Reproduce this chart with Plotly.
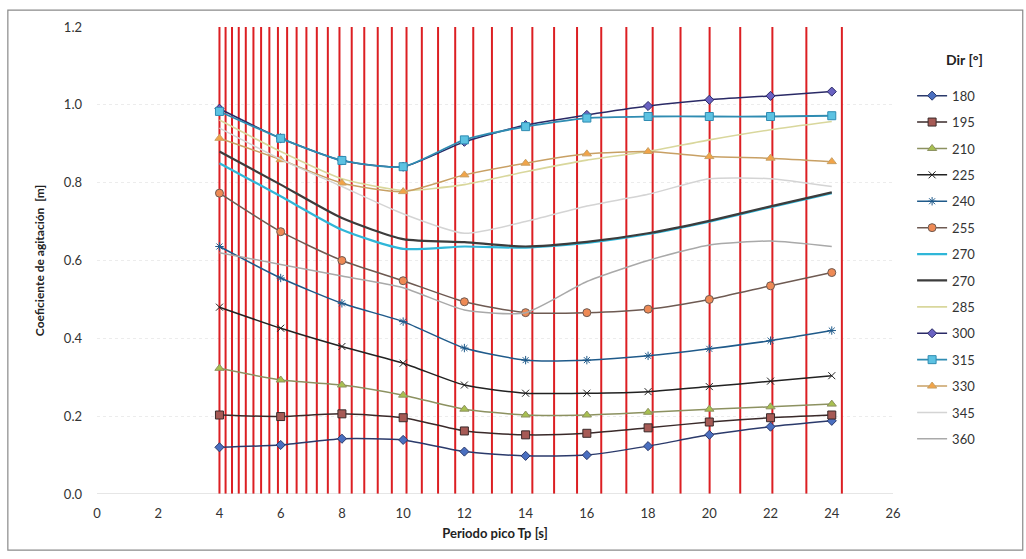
import plotly.graph_objects as go

# ---------------- data ----------------
periods = [4, 6, 8, 10, 12, 14, 16, 18, 20, 22, 24]

dir_labels = ["180", "195", "210", "225", "240", "255", "270", "270",
              "285", "300", "315", "330", "345", "360"]

s180 = [0.120, 0.126, 0.142, 0.139, 0.109, 0.098, 0.100, 0.123, 0.152, 0.173, 0.188]
s195 = [0.203, 0.199, 0.206, 0.196, 0.162, 0.152, 0.156, 0.170, 0.185, 0.196, 0.203]
s210 = [0.323, 0.293, 0.280, 0.254, 0.218, 0.203, 0.203, 0.210, 0.218, 0.224, 0.231]
s225 = [0.480, 0.426, 0.379, 0.336, 0.280, 0.259, 0.259, 0.263, 0.276, 0.290, 0.304]
s240 = [0.636, 0.555, 0.490, 0.443, 0.375, 0.344, 0.344, 0.355, 0.373, 0.394, 0.420]
s255 = [0.773, 0.674, 0.600, 0.548, 0.494, 0.466, 0.466, 0.475, 0.500, 0.535, 0.569]
s270a = [0.850, 0.765, 0.679, 0.630, 0.636, 0.633, 0.645, 0.668, 0.700, 0.737, 0.773]
s270b = [0.880, 0.795, 0.709, 0.655, 0.647, 0.636, 0.648, 0.670, 0.702, 0.739, 0.775]
s285 = [0.961, 0.880, 0.810, 0.780, 0.795, 0.828, 0.858, 0.880, 0.910, 0.936, 0.957]
s300 = [0.990, 0.914, 0.857, 0.841, 0.905, 0.948, 0.974, 0.997, 1.013, 1.023, 1.034]
s315 = [0.983, 0.914, 0.857, 0.841, 0.910, 0.944, 0.966, 0.970, 0.970, 0.970, 0.972]
s330 = [0.914, 0.859, 0.799, 0.777, 0.820, 0.850, 0.874, 0.880, 0.867, 0.863, 0.854]
s345 = [0.940, 0.860, 0.790, 0.720, 0.670, 0.700, 0.740, 0.770, 0.810, 0.810, 0.790]
s360 = [0.620, 0.590, 0.560, 0.530, 0.473, 0.466, 0.546, 0.600, 0.640, 0.650, 0.636]

series_values = [s180, s195, s210, s225, s240, s255, s270a, s270b,
                 s285, s300, s315, s330, s345, s360]

# discrete spectral periods drawn as red vertical lines
red_periods = [4.00, 4.20, 4.41, 4.63, 4.86, 5.11, 5.36, 5.63, 5.91, 6.21,
               6.52, 6.84, 7.18, 7.54, 7.92, 8.32, 8.73, 9.17, 9.63, 10.11,
               10.61, 11.14, 11.70, 12.29, 12.90, 13.55, 14.22, 14.93, 15.68,
               16.47, 17.29, 18.15, 19.06, 20.01, 21.01, 22.06, 23.17, 24.33]

x_ticks = [0, 2, 4, 6, 8, 10, 12, 14, 16, 18, 20, 22, 24, 26]
y_ticks = [0.0, 0.2, 0.4, 0.6, 0.8, 1.0, 1.2]

# ---------------- styles ----------------
styles = [
    dict(lc="#2b3a6b", w=1.5, sym="diamond", mc="#4a6fc0", ms=7),
    dict(lc="#3a2a2a", w=1.5, sym="square", mc="#a65a55", ms=8),
    dict(lc="#8c9160", w=1.5, sym="triangle-up", mc="#a8c050", ms=8),
    dict(lc="#222222", w=1.5, sym="x-thin", mc="#333333", ms=7),
    dict(lc="#1f5a8a", w=1.5, sym="asterisk", mc="#2f7aa8", ms=7),
    dict(lc="#6e5a52", w=1.5, sym="circle", mc="#ee8a55", ms=8),
    dict(lc="#2fb6d8", w=2.2, sym=None, mc=None, ms=0),
    dict(lc="#3c3c3c", w=2.2, sym=None, mc=None, ms=0),
    dict(lc="#d9d79c", w=1.6, sym=None, mc=None, ms=0),
    dict(lc="#2a2a66", w=1.5, sym="diamond", mc="#6a62c2", ms=7),
    dict(lc="#2f8cb2", w=1.8, sym="square", mc="#5cc2e2", ms=8),
    dict(lc="#c8a064", w=1.5, sym="triangle-up", mc="#f2a448", ms=8),
    dict(lc="#d4d4d4", w=1.5, sym=None, mc=None, ms=0),
    dict(lc="#a9a9a9", w=1.5, sym=None, mc=None, ms=0),
]

fig = go.Figure()

# red vertical lines
rx, ry = [], []
for p in red_periods:
    rx += [p, p, None]
    ry += [0.0, 1.2, None]
fig.add_trace(go.Scatter(x=rx, y=ry, mode="lines", showlegend=False,
                         hoverinfo="skip",
                         line=dict(color="#dc1f23", width=2)))

for i, (lab, vals, st) in enumerate(zip(dir_labels, series_values, styles)):
    if st["sym"]:
        mode = "lines+markers"
        marker = dict(symbol=st["sym"], color=st["mc"], size=st["ms"],
                      line=dict(color=st["lc"], width=1))
    else:
        mode = "lines"
        marker = None
    fig.add_trace(go.Scatter(
        x=periods, y=vals, mode=mode, name=lab,
        legendgroup="g%d" % i,
        line=dict(color=st["lc"], width=st["w"], shape="spline", smoothing=0.6),
        marker=marker,
    ))

fig.update_layout(
    width=1026, height=559,
    margin=dict(l=97, r=133, t=27, b=65),
    paper_bgcolor="white", plot_bgcolor="white",
    font=dict(family="Lato, 'Open Sans', sans-serif", size=13, color="#333333"),
    showlegend=True,
    legend=dict(
        x=1.024, y=0.885, xanchor="left", yanchor="top",
        font=dict(size=13, color="#333333"),
        tracegroupgap=6.5,
        itemwidth=30,
        bgcolor="rgba(0,0,0,0)",
    ),
    xaxis=dict(
        range=[0, 26], tickvals=x_ticks, ticktext=[str(v) for v in x_ticks],
        showgrid=False, zeroline=False,
        showline=False, ticks="",
        tickfont=dict(size=13, color="#333333"),
        ticklabelstandoff=10,
        title=dict(text="<b>Periodo pico Tp [s]</b>", standoff=8,
                   font=dict(size=13, color="#222222")),
    ),
    yaxis=dict(
        range=[0, 1.2], tickvals=y_ticks, ticktext=["%.1f" % v for v in y_ticks],
        showgrid=True, gridcolor="#ececec", griddash="dot", gridwidth=1,
        zeroline=False, showline=False, ticks="",
        tickfont=dict(size=13, color="#333333"),
        ticklabelstandoff=14,
        title=dict(text="<b>Coeficiente de agitación  [m]</b>", standoff=16,
                   font=dict(size=12, color="#222222")),
    ),
)

# legend title
fig.add_annotation(text="<b>Dir [°]</b>", xref="paper", yref="paper",
                   x=1.09, y=(494 - 60) / 467, xanchor="center", yanchor="middle",
                   showarrow=False, font=dict(size=14, color="#222222"))

# baseline at y=0
fig.add_shape(type="line", xref="paper", yref="y", x0=0, x1=1, y0=0, y1=0,
              line=dict(color="#cccccc", width=1))
# outer chart border
fig.add_shape(type="rect", xref="paper", yref="paper",
              x0=-0.112, x1=1.163, y0=-0.12, y1=1.036,
              line=dict(color="#8a8a8a", width=1.2))

fig.write_html("out.html")
